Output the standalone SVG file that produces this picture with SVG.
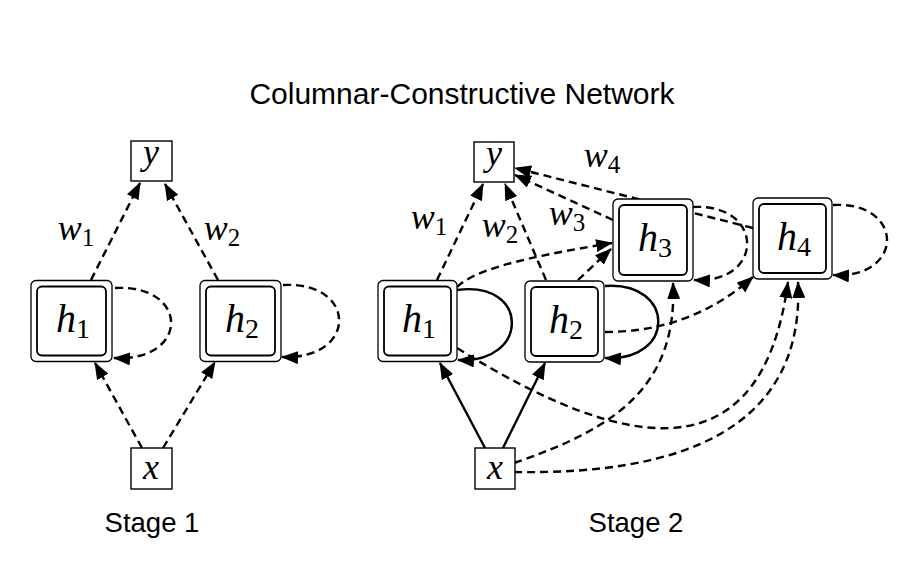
<svg xmlns="http://www.w3.org/2000/svg" width="919" height="570" viewBox="0 0 919 570">
<defs>
<marker id="ah" markerUnits="userSpaceOnUse" markerWidth="17" markerHeight="13" refX="16" refY="6.5" orient="auto">
<path d="M0,0 L17,6.5 L0,13 z" fill="#000"/>
</marker>
</defs>
<style>
.title{font-family:"Liberation Sans",Arial,sans-serif;fill:#000;text-anchor:middle}
.math{font-family:"Liberation Serif","Times New Roman",serif;font-style:italic;fill:#000;text-anchor:middle}
.sub{font-style:normal}
.big{font-size:40px}
.mid{font-size:36px}
.lbl{font-size:36px}
.box{fill:#fff;stroke:#000;stroke-width:1.4}
.outer{fill:#fff;stroke:#000;stroke-width:1.3}
.inner{fill:none;stroke:#000;stroke-width:1.8}
.dash{fill:none;stroke:#000;stroke-width:2.4;stroke-dasharray:8 5;marker-end:url(#ah)}
.solid{fill:none;stroke:#000;stroke-width:2.4;marker-end:url(#ah)}
</style>
<rect width="919" height="570" fill="#fff"/>
<text class="title" x="462" y="104" style="font-size:30px">Columnar-Constructive Network</text>
<text class="title" x="152" y="532" style="font-size:27.5px">Stage 1</text>
<text class="title" x="636" y="532" style="font-size:27.5px">Stage 2</text>

<g id="connectors">
<!-- Stage 1 -->
<path class="dash" d="M91 280 L140 183"/>
<path class="dash" d="M218 280 L165 184"/>
<path class="dash" d="M142 448 L95 363"/>
<path class="dash" d="M163 448 L215 362"/>
<path class="dash" d="M115 288 C190 284 190 362 114 358"/>
<path class="dash" d="M283 285 C358 281 358 360 282 357"/>
<!-- Stage 2 -->
<path class="dash" d="M437 280 L483 184"/>
<path class="dash" d="M546 280 L505 184"/>
<path class="dash" d="M613 220 L515 175"/>
<path class="dash" d="M753 228 L515 168"/>
<path class="dash" d="M457 287 C475 270 520 258 612 243"/>
<path class="dash" d="M578 280 L611 249"/>
<path class="dash" d="M693 207 C765 203 765 284 694 280"/>
<path class="dash" d="M833 205 C905 201 905 279 833 275"/>
<path class="solid" d="M457 290 C530 280 530 364 458 360"/>
<path class="solid" d="M605 286 C676 281 676 362 605 358"/>
<path class="dash" d="M605 332 C660 332 710 315 753 277"/>
<path class="dash" d="M457 348 C630 456 762 474 788 282"/>
<path class="dash" d="M514 463 C610 430 678 390 673 283"/>
<path class="dash" d="M514 472 C680 475 805 430 798 282"/>
<path class="solid" d="M485 448 L440 363"/>
<path class="solid" d="M503 448 L545 363"/>
</g>

<g id="s1-y"><rect class="box" x="131" y="141" width="41" height="40"/><text class="math mid" x="151" y="164">y</text></g>
<g id="s1-x"><rect class="box" x="131" y="448" width="41" height="41"/><text class="math mid" x="151" y="479">x</text></g>
<g id="s1-h1"><rect class="outer" x="31" y="280.5" width="81" height="81" rx="5"/><rect class="inner" x="37" y="286.5" width="69" height="69" rx="5"/><text class="math big" x="73" y="332">h<tspan class="sub" font-size="28" dy="6">1</tspan></text></g>
<g id="s1-h2"><rect class="outer" x="200" y="280.5" width="81" height="81" rx="5"/><rect class="inner" x="206" y="286.5" width="69" height="69" rx="5"/><text class="math big" x="242" y="332">h<tspan class="sub" font-size="28" dy="6">2</tspan></text></g>
<text class="math lbl" x="76" y="240">w<tspan class="sub" font-size="25" dy="6">1</tspan></text>
<text class="math lbl" x="222" y="240">w<tspan class="sub" font-size="25" dy="6">2</tspan></text>

<g id="s2-y"><rect class="box" x="474" y="142" width="40" height="40"/><text class="math mid" x="494" y="165">y</text></g>
<g id="s2-x"><rect class="box" x="475" y="448" width="40" height="41"/><text class="math mid" x="495" y="479">x</text></g>
<g id="s2-h1"><rect class="outer" x="378" y="280.5" width="79" height="81" rx="5"/><rect class="inner" x="384" y="286.5" width="67" height="69" rx="5"/><text class="math big" x="419" y="332">h<tspan class="sub" font-size="28" dy="6">1</tspan></text></g>
<g id="s2-h2"><rect class="outer" x="525" y="281" width="79" height="81" rx="5"/><rect class="inner" x="531" y="287" width="67" height="69" rx="5"/><text class="math big" x="566" y="332.5">h<tspan class="sub" font-size="28" dy="6">2</tspan></text></g>
<g id="s2-h3"><rect class="outer" x="613" y="199" width="80" height="82" rx="5"/><rect class="inner" x="619" y="205" width="68" height="70" rx="5"/><text class="math big" x="655" y="251">h<tspan class="sub" font-size="28" dy="6">3</tspan></text></g>
<g id="s2-h4"><rect class="outer" x="753" y="198" width="79" height="81" rx="5"/><rect class="inner" x="759" y="204" width="67" height="69" rx="5"/><text class="math big" x="794" y="250">h<tspan class="sub" font-size="28" dy="6">4</tspan></text></g>
<text class="math lbl" x="429" y="229">w<tspan class="sub" font-size="25" dy="6">1</tspan></text>
<text class="math lbl" x="500" y="237">w<tspan class="sub" font-size="25" dy="6">2</tspan></text>
<text class="math lbl" x="567" y="225">w<tspan class="sub" font-size="25" dy="6">3</tspan></text>
<text class="math lbl" x="602" y="167">w<tspan class="sub" font-size="25" dy="6">4</tspan></text>
</svg>
